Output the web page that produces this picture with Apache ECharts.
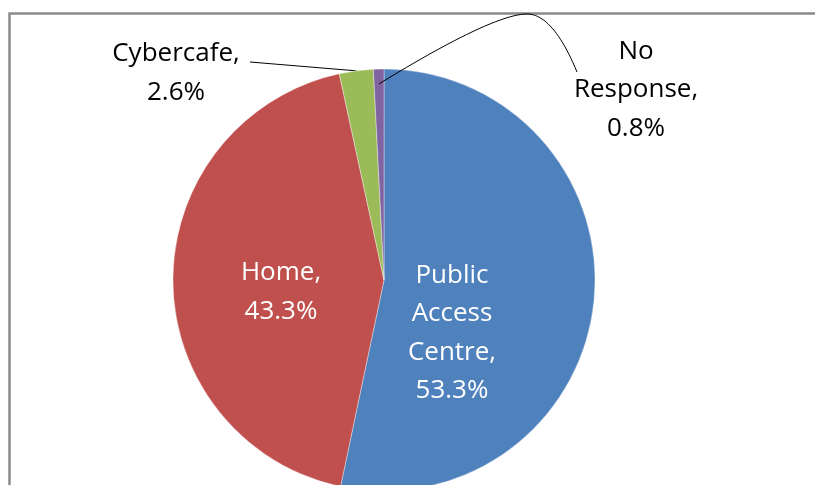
<!DOCTYPE html>
<html>
<head>
<meta charset="utf-8">
<script src="https://cdn.jsdelivr.net/npm/echarts@6/dist/echarts.min.js"></script>
<style>
  html, body { margin: 0; padding: 0; background: #ffffff; }
  #chart { width: 815px; height: 485px; }
</style>
</head>
<body>
<div id="chart"></div>
<script>
// Where respondents access the internet (share of responses, %)
const categories = ['Public Access Centre', 'Home', 'Cybercafe', 'No Response'];
const shares = [53.3, 43.3, 2.6, 0.8];
const sliceColors = ['#4F81BD', '#C0504D', '#9BBB59', '#8064A2'];

// Pie geometry (px)
const CENTER = [384, 280];
const RADIUS = 211;

// Label block centres and leader-line ends
const labelPlacement = {
  0: { x: 452, y: 333 },
  1: { x: 281, y: 292 },
  2: { x: 176, y: 73, lineEnd: [250, 62], lineStartR: 1.0 },
  3: { x: 636, y: 90, lineEnd: [577, 72], lineStartR: 0.93,
       curve: [[493, 14], [527, 14], [553, 14]] }
};

const insideIdx = [0, 1];

// point on the pie at the middle of slice i, at fraction f of the radius
function sliceMidPoint(i, f) {
  const total = shares.reduce((a, b) => a + b, 0);
  let before = 0;
  for (let k = 0; k < i; k++) before += shares[k];
  const frac = (before + shares[i] / 2) / total;
  const ang = frac * 2 * Math.PI;
  return [CENTER[0] + RADIUS * f * Math.sin(ang), CENTER[1] - RADIUS * f * Math.cos(ang)];
}

function quadPoints(p0, c, p1, n) {
  const pts = [];
  for (let s = 1; s <= n; s++) {
    const t = s / n, u = 1 - t;
    pts.push([u * u * p0[0] + 2 * u * t * c[0] + t * t * p1[0],
              u * u * p0[1] + 2 * u * t * c[1] + t * t * p1[1]]);
  }
  return pts;
}

function leaderPoints(i) {
  const p = labelPlacement[i];
  const start = sliceMidPoint(i, p.lineStartR);
  if (!p.curve) return [start, p.lineEnd];
  const [c1, peak, c2] = p.curve;
  return [start].concat(quadPoints(start, c1, peak, 24), quadPoints(peak, c2, p.lineEnd, 24));
}

function labelText(name, value) {
  return name.split(' ').join('\n') + ',\n' + value.toFixed(1) + '%';
}

const pieData = categories.map((name, i) => {
  const inside = insideIdx.indexOf(i) >= 0;
  return {
    name: name,
    value: shares[i],
    itemStyle: { color: sliceColors[i] },
    label: inside ? { position: 'inside', color: '#ffffff' } : { position: 'outside', color: '#000000' },
    labelLine: { show: !inside && !labelPlacement[i].curve }
  };
});

// curved leader for the slim slice, drawn above the slices
const curvedLeaders = categories
  .map((_, i) => i)
  .filter((i) => labelPlacement[i].curve)
  .map((i) => ({
    type: 'polyline',
    shape: { points: leaderPoints(i) },
    style: { stroke: '#000000', lineWidth: 1, fill: null },
    silent: true,
    z: 10
  }));

const chart = echarts.init(document.getElementById('chart'), null, { renderer: 'canvas' });

chart.setOption({
  backgroundColor: '#ffffff',
  animation: false,
  graphic: [{
    type: 'rect',
    shape: { x: 9.5, y: 13.5, width: 840, height: 520 },
    style: { fill: 'none', stroke: '#8a8a8a', lineWidth: 2.5 },
    silent: true,
    z: -1
  }].concat(curvedLeaders),
  series: [{
    type: 'pie',
    center: CENTER,
    radius: RADIUS,
    startAngle: 90,
    clockwise: true,
    avoidLabelOverlap: false,
    data: pieData,
    itemStyle: { borderColor: 'rgba(255,255,255,0.45)', borderWidth: 0.8 },
    label: {
      show: true,
      formatter: (p) => labelText(p.name, p.value),
      fontFamily: 'Open Sans',
      fontSize: 26,
      lineHeight: 38.5,
      align: 'center'
    },
    labelLine: {
      show: true,
      smooth: false,
      lineStyle: { color: '#000000', width: 1 }
    },
    labelLayout: function (params) {
      const i = params.dataIndex;
      const p = labelPlacement[i];
      const out = { x: p.x, y: p.y, align: 'center', verticalAlign: 'middle' };
      if (p.lineEnd && !p.curve) out.labelLinePoints = leaderPoints(i);
      return out;
    },
    emphasis: { disabled: true }
  }]
});
</script>
</body>
</html>
